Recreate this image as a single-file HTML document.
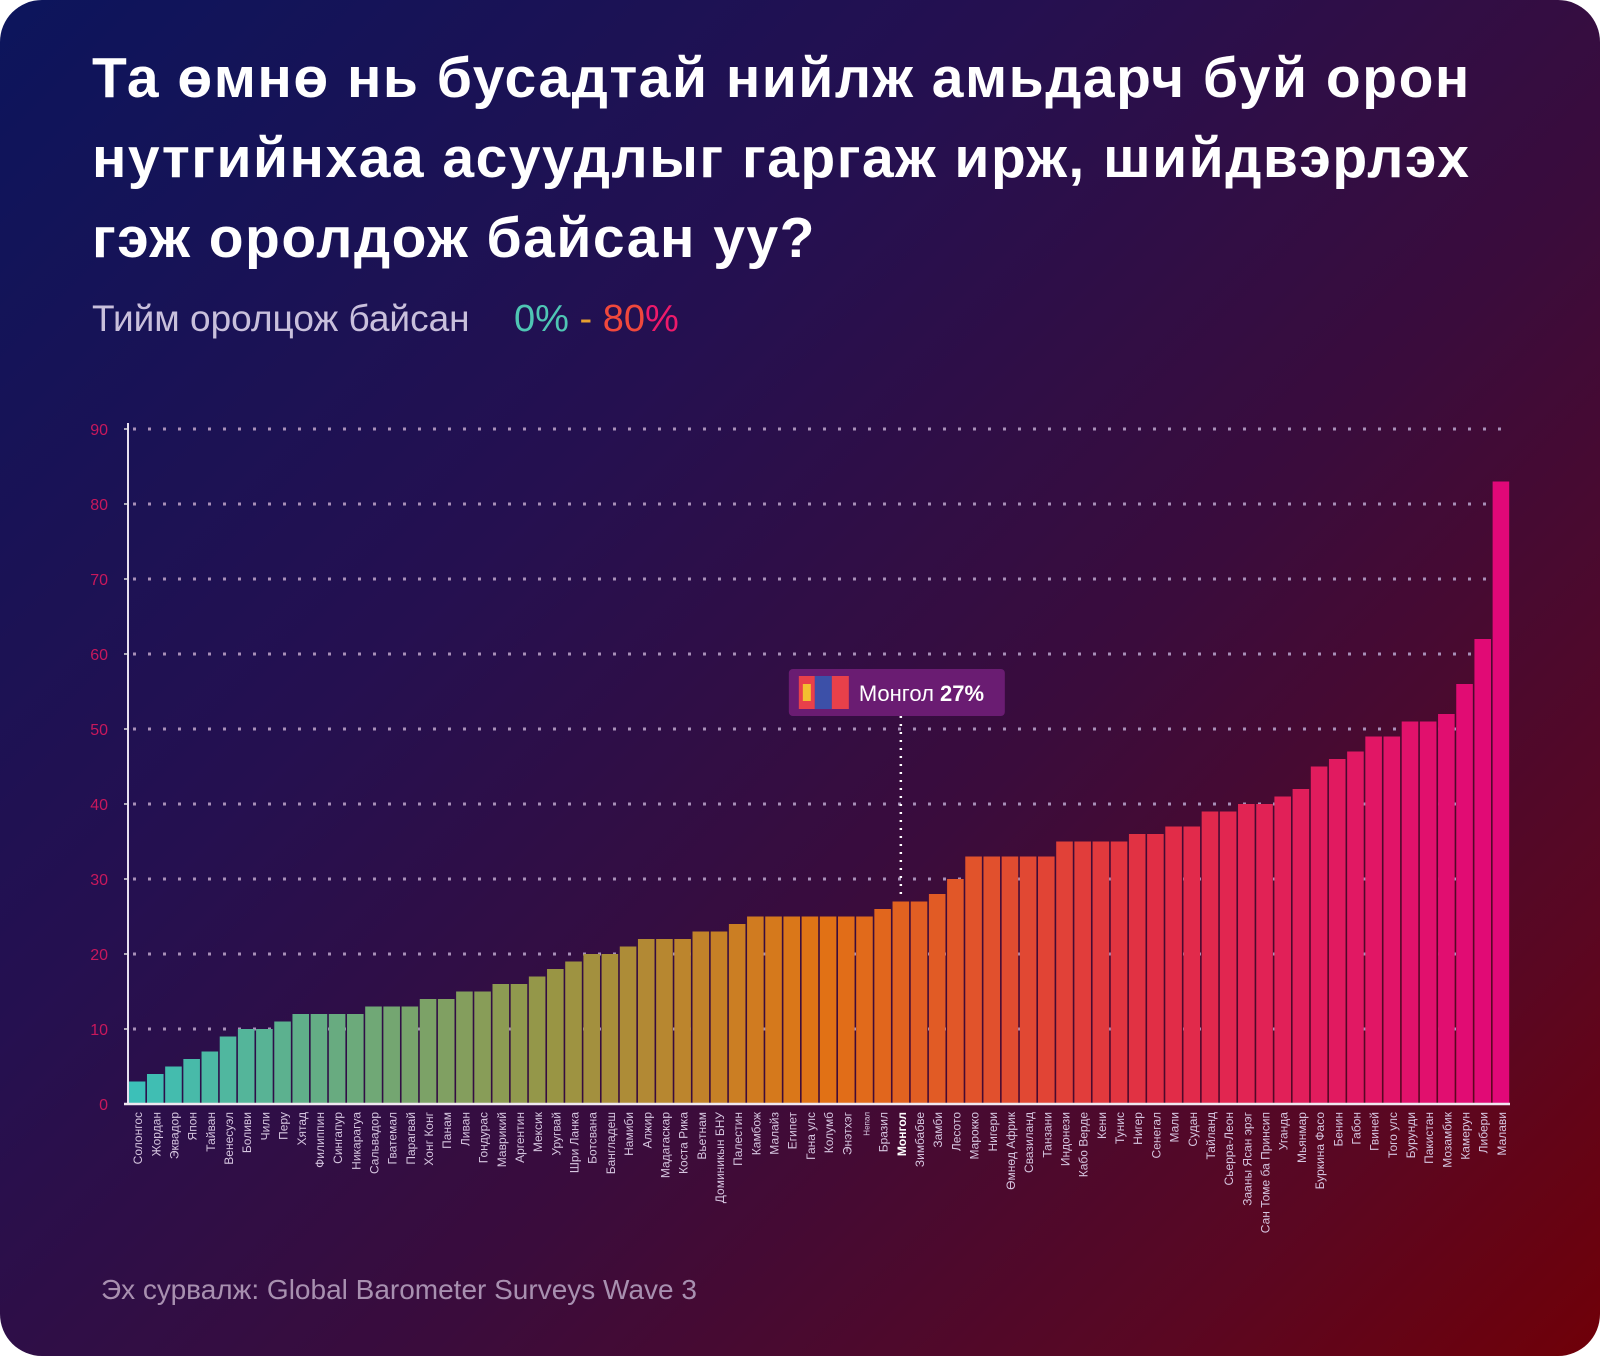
<!DOCTYPE html>
<html><head><meta charset="utf-8">
<style>
html,body{margin:0;padding:0;background:#fff;}
#card{position:absolute;left:0;top:0;width:1600px;height:1356px;border-radius:42px;overflow:hidden;
background:linear-gradient(135deg,#0c155c 0%,#251050 35%,#3a0c3c 60%,#5a0722 85%,#700008 100%);
font-family:"Liberation Sans",sans-serif;}
#title{position:absolute;left:92px;top:38px;color:#fff;font-size:57px;line-height:80px;font-weight:bold;letter-spacing:1.5px;margin:0;white-space:nowrap;}
#sub{position:absolute;left:92px;top:298px;font-size:37px;color:#c9c0dc;}
#range{position:absolute;left:514px;top:298px;font-size:38px;}
#src{position:absolute;left:101px;top:1274px;font-size:28px;color:#a890b0;}
svg{position:absolute;left:0;top:0;}
</style></head><body>
<div id="card">
<h1 id="title">Та өмнө нь бусадтай нийлж амьдарч буй орон<br>нутгийнхаа асуудлыг гаргаж ирж, шийдвэрлэх<br>гэж оролдож байсан уу?</h1>
<div id="sub">Тийм оролцож байсан</div>
<div id="range"><span style="color:#4fc6b4">0%</span><span style="color:#e8a030"> - </span><span style="color:#f0483c">80</span><span style="color:#ee1a6a">%</span></div>
<div id="src">Эх сурвалж: Global Barometer Surveys Wave 3</div>
<svg id="chart" width="1600" height="1356"></svg>
</div>
<script>
const categories=["Солонгос","Жордан","Эквадор","Япон","Тайван","Венесуэл","Боливи","Чили","Перу","Хятад","Филиппин","Сингапур","Никарагуа","Сальвадор","Гватемал","Парагвай","Хонг Конг","Панам","Ливан","Гондурас","Маврикий","Аргентин","Мексик","Уругвай","Шри Ланка","Ботсвана","Бангладеш","Намиби","Алжир","Мадагаскар","Коста Рика","Вьетнам","Доминикын БНУ","Палестин","Камбож","Малайз","Египет","Гана улс","Колумб","Энэтхэг","Непал","Бразил","Монгол","Зимбабве","Замби","Лесото","Марокко","Нигери","Өмнөд Африк","Свазиланд","Танзани","Индонези","Кабо Верде","Кени","Тунис","Нигер","Сенегал","Мали","Судан","Тайланд","Сьерра-Леон","Зааны Ясан эрэг","Сан Томе ба Принсип","Уганда","Мьянмар","Буркина Фасо","Бенин","Габон","Гвиней","Того улс","Бурунди","Пакистан","Мозамбик","Камерун","Либери","Малави"];
const values=[3,4,5,6,7,9,10,10,11,12,12,12,12,13,13,13,14,14,15,15,16,16,17,18,19,20,20,21,22,22,22,23,23,24,25,25,25,25,25,25,25,26,27,27,28,30,33,33,33,33,33,35,35,35,35,36,36,37,37,39,39,40,40,41,42,45,46,47,49,49,51,51,52,56,62,83];
const yTicks=[0,10,20,30,40,50,60,70,80,90];
const highlight="Монгол";
const highlightLabel="27%";

const NS="http://www.w3.org/2000/svg";
const svg=document.getElementById('chart');
const X0=128,X1=1510,Y0=1104,Y1=429,YMAX=90;
const bw=(X1-X0)/categories.length;
const x=i=>X0+i*bw;
const y=v=>Y0-(v/YMAX)*(Y0-Y1);
function mk(t,a){const e=document.createElementNS(NS,t);for(const k in a)e.setAttribute(k,a[k]);svg.appendChild(e);return e;}
const stops=[[0,[60,192,184]],[0.3,[150,150,70]],[0.5,[225,115,20]],[0.75,[225,45,70]],[1,[225,8,120]]];
function col(t){for(let i=1;i<stops.length;i++){if(t<=stops[i][0]){const a=stops[i-1],b=stops[i],f=(t-a[0])/(b[0]-a[0]);const c=a[1].map((v,j)=>Math.round(v+(b[1][j]-v)*f));return `rgb(${c})`;}}return 'rgb(225,8,120)';}
yTicks.forEach(t=>{
 if(t>0){const g=mk('line',{x1:X0+5,x2:X1,y1:y(t),y2:y(t),stroke:'#a890b8','stroke-width':3,'stroke-dasharray':'3 12'});
 }
 const l=mk('text',{x:108,y:y(t)+6,'text-anchor':'end','font-size':16,fill:'#c8185c','font-family':'Liberation Sans, sans-serif'});
 l.textContent=t;
 const tk=mk('line',{x1:X0-4,x2:X0,y1:y(t),y2:y(t),stroke:'#ddd','stroke-width':1.5});
 
});
categories.forEach((c,i)=>{
 const r=mk('rect',{x:x(i)+0.8,y:y(values[i]),width:bw-1.6,height:Y0-y(values[i]),fill:col(i/(categories.length-1))});
 
 const cx=x(i)+bw/2+5;
 const isH=c===highlight;
 const t=mk('text',{x:0,y:0,transform:`translate(${cx},1112) rotate(-90)`,'text-anchor':'end','font-size':c==='Непал'?8:12,fill:isH?'#fff':'#d6c6e0','font-weight':isH?'bold':'normal','font-family':'Liberation Sans, sans-serif'});
 t.textContent=c;
});
const ax=mk('line',{x1:X0,x2:X0,y1:Y1-6,y2:Y0,stroke:'#e8e0f0','stroke-width':2});

const bx=mk('line',{x1:X0-4,x2:X1,y1:Y0,y2:Y0,stroke:'#f0e8f0','stroke-width':2.5});

const hi=categories.indexOf(highlight);
const hx=x(hi)+bw/2;
const dl=mk('line',{x1:hx,x2:hx,y1:716,y2:y(values[hi])-4,stroke:'#fff','stroke-width':2.5,'stroke-dasharray':'2 6'});

const bxr=mk('rect',{x:hx-112,y:669,width:216,height:47,rx:4,fill:'#6a1c72'});

const f1=mk('rect',{x:hx-102,y:676,width:16,height:33,fill:'#e8404a'});
const f2=mk('rect',{x:hx-86,y:676,width:17,height:33,fill:'#3c50a8'});
const f3=mk('rect',{x:hx-69,y:676,width:17,height:33,fill:'#e8404a'});
const f4=mk('rect',{x:hx-98,y:684,width:8,height:17,fill:'#f3c030'});
const tt=mk('text',{x:hx-42,y:701,'font-size':22,fill:'#fff','font-family':'Liberation Sans, sans-serif'});

tt.innerHTML=highlight+' <tspan font-weight="bold">'+highlightLabel+'</tspan>';
</script>
</body></html>
